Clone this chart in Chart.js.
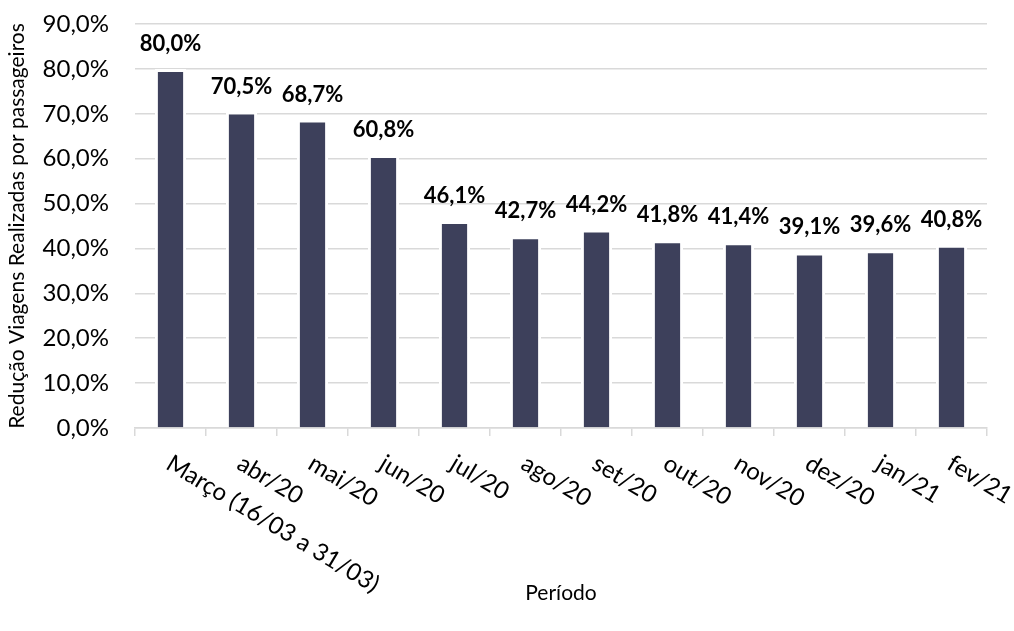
<!DOCTYPE html>
<html>
<head>
<meta charset="utf-8">
<script src="https://cdn.jsdelivr.net/npm/chart.js@4.4.0/dist/chart.umd.min.js"></script>
<style>
    body { margin: 0; background: #fff; }
    #wrap { width: 1014px; height: 631px; }
</style>
</head>
<body>
<div id="wrap"><canvas id="reducaoChart"></canvas></div>
<script>
// Dados
const periodos = ['Março (16/03 a 31/03)', 'abr/20', 'mai/20', 'jun/20', 'jul/20', 'ago/20',
    'set/20', 'out/20', 'nov/20', 'dez/20', 'jan/21', 'fev/21'];
const reducao = [80.0, 70.5, 68.7, 60.8, 46.1, 42.7, 44.2, 41.8, 41.4, 39.1, 39.6, 40.8];
const yTicks = [0, 10, 20, 30, 40, 50, 60, 70, 80, 90];

const fonte = 'Lato, "Open Sans", sans-serif';

function fmt(v) {
    return v.toFixed(1).replace('.', ',') + '%';
}

// rótulos em cima das barras
const rotulosBarras = {
    id: 'rotulosBarras',
    afterDatasetsDraw(chart) {
        const ctx = chart.ctx;
        const meta = chart.getDatasetMeta(0);
        ctx.save();
        ctx.font = 'bold 22px ' + fonte;
        ctx.fillStyle = '#000';
        ctx.textAlign = 'center';
        ctx.textBaseline = 'alphabetic';
        meta.data.forEach((bar, i) => {
            ctx.fillText(fmt(reducao[i]), bar.x, bar.y - 18);
        });
        ctx.restore();
    }
};

// rótulos do eixo x inclinados para baixo (como no Excel)
const rotulosEixoX = {
    id: 'rotulosEixoX',
    afterDraw(chart) {
        const ctx = chart.ctx;
        const x = chart.scales.x;
        ctx.save();
        ctx.font = '24px ' + fonte;
        ctx.fillStyle = '#000';
        ctx.textAlign = 'left';
        ctx.textBaseline = 'alphabetic';
        periodos.forEach((p, i) => {
            ctx.save();
            ctx.translate(x.getPixelForValue(i) - 6, x.top + 40);
            ctx.rotate(31 * Math.PI / 180);
            ctx.fillText(p, 0, 0);
            ctx.restore();
        });
        ctx.restore();
    }
};

const ctx = document.getElementById('reducaoChart').getContext('2d');
const reducaoChart = new Chart(ctx, {
    type: 'bar',
    data: {
        labels: periodos,
        datasets: [{
            data: reducao,
            backgroundColor: '#3d405b',
            borderColor: '#ffffff',
            borderWidth: 3,
            borderSkipped: 'start',
            barPercentage: 0.44,
            categoryPercentage: 1.0
        }]
    },
    options: {
        responsive: true,
        maintainAspectRatio: false,
        animation: false,
        events: [],
        layout: {
            padding: { top: 24, right: 27, left: 0, bottom: 0 }
        },
        plugins: {
            legend: { display: false },
            tooltip: { enabled: false }
        },
        scales: {
            x: {
                grid: {
                    drawOnChartArea: false,
                    drawTicks: true,
                    tickLength: 8,
                    color: '#d9d9d9',
                    lineWidth: 1.5
                },
                border: { display: true, color: '#d9d9d9', width: 1.5 },
                ticks: { display: false },
                title: {
                    display: true,
                    text: 'Período',
                    color: '#000',
                    font: { family: fonte, size: 21 },
                    padding: { top: 0, bottom: 25 }
                },
                afterFit(scale) {
                    scale.height = 203;
                }
            },
            y: {
                min: 0,
                max: 90,
                afterBuildTicks(scale) {
                    scale.ticks = yTicks.map(v => ({ value: v }));
                },
                grid: {
                    drawTicks: false,
                    color: '#d9d9d9',
                    lineWidth: 1.5
                },
                border: { display: false },
                ticks: {
                    padding: 26,
                    color: '#000',
                    font: { family: fonte, size: 24 },
                    callback: v => fmt(v)
                },
                title: {
                    display: true,
                    text: 'Redução Viagens Realizadas por passageiros',
                    color: '#000',
                    font: { family: fonte, size: 21 },
                    padding: { top: 5, bottom: 0 }
                },
                afterFit(scale) {
                    scale.width = 135;
                    // o padding dos ticks não deve empurrar a área do gráfico
                    scale.paddingTop = 12;
                    scale.paddingBottom = 12;
                }
            }
        }
    },
    plugins: [rotulosBarras, rotulosEixoX]
});
</script>
</body>
</html>
